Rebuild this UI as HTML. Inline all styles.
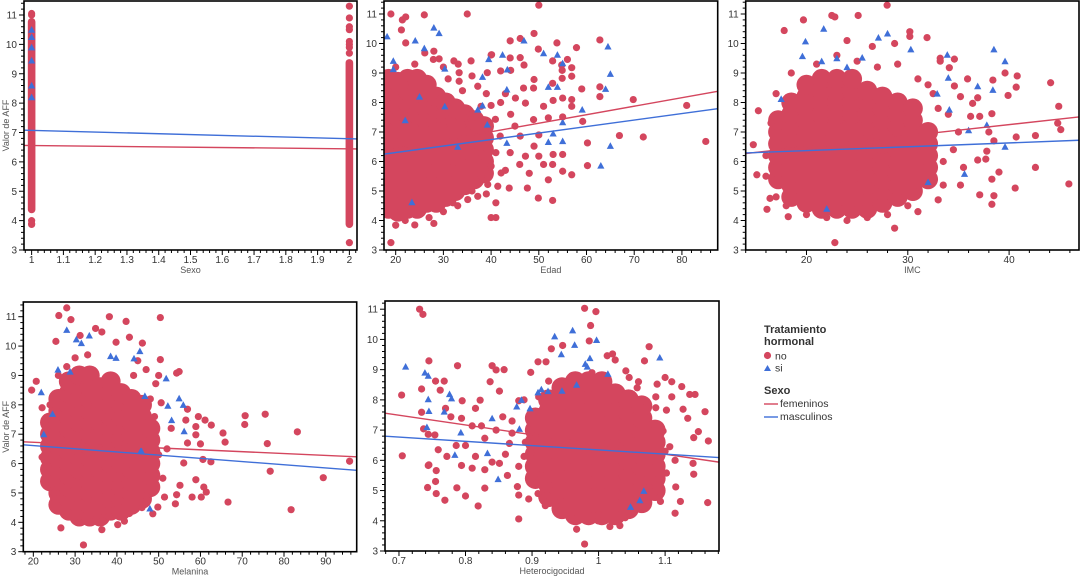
<!DOCTYPE html>
<html><head><meta charset="utf-8"><style>
html,body{margin:0;padding:0;background:#fff;}
svg{display:block;font-family:"Liberation Sans",Arial,sans-serif;}
</style></head><body>
<svg id="chart" width="1080" height="577" viewBox="0 0 1080 577"></svg>
<script>
// ---------------- DATA ----------------
const yTicks = [3,4,5,6,7,8,9,10,11];
const sexoTicks = [1,1.1,1.2,1.3,1.4,1.5,1.6,1.7,1.8,1.9,2];
const edadTicks = [20,30,40,50,60,70,80];
const imcTicks = [20,30,40];
const melTicks = [20,30,40,50,60,70,80,90];
const hetTicks = [0.7,0.8,0.9,1,1.1];

// Sexo panel
const sexoCats = [1,2];
const sexoCoreLo = [4.25,3.75];
const sexoCoreHi = [10.9,9.5];
const sexoNo = [[1,4.0],[1,3.9],[1,3.87],[1,11.05],[1,11.0],[2,3.25],[2,9.7],[2,9.9],[2,10.1],[2,10.5],[2,10.6],[2,10.9],[2,11.3],[2,10.0]];
const sexoSi = [[1,10.5],[1,10.25],[1,9.9],[1,9.45],[1,8.6],[1,8.2]];
const sexoFem = [6.56,6.44];
const sexoMas = [7.08,6.78];

// Edad: dense columns [x, yLow, yHigh]
const edadCore = [[18.5,4.4,9.0],[20.5,4.3,9.0],[22.5,4.4,9.0],[24.5,4.4,8.8],[26.5,4.6,8.6],[28.5,4.6,8.4],[30.5,4.8,8.2],[32.5,5.0,8.0],[34.5,5.2,7.8],[36.5,5.4,7.6],[38.5,5.6,7.2]];
const edadNo = [[50,11.3],[35,11.0],[26,10.97],[19,11.0],[49,10.34],[62.8,10.12],[57.9,9.86],[62.8,8.53],[69.8,8.1],[81,7.9],[85,6.68],[71.9,6.83],[66.9,6.88],[60.2,6.63],[60.2,5.86],[62.8,8.2],[59.2,7.36],[49.9,4.76],[52.9,4.68],[41,4.6],[40,4.1],[41,4.1],[19,3.25],[20,3.84],
[40,9.61],[44,10.09],[46.1,10.17],[46.9,9.27],[44,9.51],[46.1,9.52],[44.1,9.09],[49,8.78],[52.9,8.65],[54.9,8.82],[54.9,9.09],[56.9,9.18],[56,9.46],[56.9,8.89],[53.8,10.02],[54.8,9.27],[52.9,9.41],[49.9,9.81],[59,8.46],[55,8.15],[56.9,8.1],[56.9,7.87],[53,8.07],[51,7.87],[55,7.51],[52,7.48],[48.9,7.42],[46.8,8.49],[48.9,8.49],[47.2,7.98],[45.1,8.15],[44.1,7.6],[40.9,7.43],[41.9,6.86],[46.1,6.86],[49,6.52],[47.2,6.18],[50,6.18],[53,6.24],[55,6.24],[52.9,5.9],[51,5.9],[55,5.67],[52,5.38],[56.9,5.55],[47.6,5.1],[43.8,5.1],[41.4,5.16],[42.1,5.61],[37.9,5.5],[37.2,4.82],[35.1,4.71],[39.3,5.22],[40,5.84],[37.9,6.3],[35.8,6.52],[37.9,6.98],[35.8,7.43],[37.9,7.87],[40.1,9.62],[35.8,9.41],[32.2,9.41],[33.1,9.3],[27.9,9.46],[29.1,9.48],[28,9.74],[26.1,9.68],[22.1,10.02],[21.2,10.46],[21.4,10.8],[22.1,10.9],[33.3,9.01],[39.2,9.01],[42,9.07],[37.2,8.55],[33.3,8.72],[43,8.3],[45,7.2],[48,5.6],[50,6.9],[44,6.3],[46,5.9],[42,8.0],[39,8.3],[36,8.9],[30,9.2],[24,9.3],[20,9.2],[25,4.2],[22,4.0],[27,4.1],[30,4.3],[33,4.5],[28,3.9],[24,3.85],[31,8.8],[34,8.4],[40,7.9],[41,6.3],[43,5.7],[39,4.9],[36,5.0],[32,4.6]];
const edadSi = [[18.2,10.24],[28,10.54],[29.1,10.35],[24.1,10.1],[26,9.84],[39.5,9.47],[42.4,9.62],[43.4,9.12],[46.9,10.1],[51,9.67],[53.9,9.62],[55,9.33],[52,8.53],[53.9,8.53],[43.3,8.44],[59.1,7.76],[55,7.33],[53,6.95],[52,6.66],[55,6.69],[43.3,6.63],[39.2,7.25],[37.2,7.76],[38.2,7.9],[64.5,9.9],[63,5.86],[65,6.53],[64,8.46],[65,8.97],[23.4,4.62],[19.5,9.41],[19.5,9.13],[30.3,9.15],[30.3,7.87],[38.2,8.87],[25,8.2],[22,7.4],[33,6.5]];
const edadFem = [6.36,8.38];
const edadMas = [6.25,7.79];

// IMC
const imcCore = [[17.2,5.4,7.6],[18.5,4.8,8.2],[20,4.6,8.6],[21.5,4.4,8.8],[23,4.4,8.8],[24.5,4.4,8.8],[26,4.4,8.6],[27.5,4.6,8.4],[29,4.8,8.2],[30.5,5.0,7.8],[32,5.4,7.2]];
const imcNo = [[27.96,11.3],[22.5,10.95],[22.8,10.9],[25.1,10.95],[19.7,10.8],[17.8,10.44],[14.75,6.57],[15.25,7.72],[15.1,5.55],[16.1,4.38],[16.4,4.75],[18.2,4.13],[22.8,3.25],[28.7,3.74],[35.9,8.8],[38.4,8.76],[40.8,8.9],[44.1,8.67],[40.7,8.52],[39.6,9.0],[44.9,7.87],[44.8,7.3],[45.1,7.08],[42.6,6.88],[40.7,6.83],[42.6,5.8],[45.9,5.24],[40.6,5.1],[38.5,4.84],[38.3,4.55],[37.1,4.87],[39,5.64],[38.3,5.4],[39.9,8.24],[36.9,8.16],[36.4,7.97],[36.2,7.53],[37.1,7.53],[38.3,7.62],[38,7.0],[38.5,6.7],[37.8,6.35],[36.9,6.05],[37.7,6.08],[35.2,5.2],[31.9,10.2],[30.2,10.4],[30.2,10.24],[28.7,10.0],[33.2,9.5],[33.2,9.4],[34.6,9.47],[34.1,9.18],[34.6,8.56],[35.2,8.2],[34,7.6],[35,7.0],[34.5,6.4],[35.5,5.8],[33.5,5.2],[33,4.7],[31,4.3],[26,4.1],[24,4.0],[20,4.2],[17,4.8],[16,6.2],[16.5,7.3],[17,8.3],[18.5,9.0],[21,9.3],[23,9.6],[25,9.4],[27,9.2],[29,9.3],[31,8.8],[32.5,8.3],[24,10.1],[26.5,9.9],[33.5,6.0],[33,7.8],[32,8.6],[30,4.5],[28,4.2],[22,4.1],[18,4.5],[16,5.5]];
const imcSi = [[21.7,10.5],[19.9,10.07],[27.1,10.2],[28,10.34],[19.6,9.57],[38.5,9.8],[39.6,9.4],[33.9,9.62],[36.9,8.55],[38.4,8.43],[34.1,7.76],[37.8,7.24],[39.6,6.5],[35.6,5.58],[36,7.06],[17.5,8.12],[25.5,9.52],[30.3,9.8],[34,8.84],[32.9,8.3],[21.5,9.4],[23,9.5],[24,9.2],[32,5.3],[22,4.4]];
const imcFem = [6.27,7.51];
const imcMas = [6.29,6.72];

// Melanina
const melCore = [[24,5.4,7.6],[26,4.6,8.4],[28.5,4.4,8.8],[31,4.2,9.0],[33.5,4.2,9.0],[36,4.2,8.8],[38.5,4.4,8.8],[41,4.4,8.6],[43.5,4.6,8.4],[46,4.8,8.0],[48,5.2,7.4]];
const melNo = [[19.6,8.5],[20.7,8.8],[22.1,7.9],[22.1,6.22],[24.4,5.3],[24.8,4.85],[26.6,3.81],[32,3.23],[36.4,3.75],[40.2,3.92],[41.8,4.04],[26.1,11.04],[28,11.3],[29,10.9],[38.2,11.0],[42.2,10.84],[50.4,10.97],[34.9,10.6],[36.4,10.48],[31.2,10.36],[25.4,10.16],[39.8,10.13],[46.1,10.1],[43,10.3],[50.4,9.54],[54.9,9.13],[54.3,9.08],[50.6,8.07],[49.3,8.72],[56.9,7.85],[56.5,7.48],[59.5,7.6],[61.1,7.48],[62.6,7.31],[58.9,7.26],[58.9,6.98],[60,6.67],[56.9,6.7],[65.4,7.04],[65.9,6.73],[70.6,7.33],[70.7,7.63],[75.5,7.68],[76,6.68],[76.7,5.74],[83.2,7.08],[81.7,4.43],[89.4,5.52],[95.7,6.08],[66.6,4.69],[60.2,4.86],[58,4.86],[61.4,5.03],[60.8,5.2],[58.9,5.45],[55.1,5.26],[54,4.63],[54.3,4.94],[56,6.02],[60.6,6.14],[62.5,6.06],[51.4,4.86],[49.8,4.52],[48.6,4.29],[52,6.5],[53,7.2],[51,5.5],[50,9.0],[47,9.2],[45,9.5],[33,9.7],[30,9.6],[28,9.3],[24,8.0],[23,7.3],[23.5,5.9],[25,5.0],[28,4.2],[31,4.0],[35,4.1],[38,4.2],[43,4.3],[46,4.5],[47,4.9],[49,5.8],[50,6.3],[49,7.6],[48,8.2],[44,9.0],[26,9.0]];
const melSi = [[28,10.55],[30.3,10.23],[33.4,10.36],[31.5,10.1],[45.5,9.83],[44.1,9.58],[38.5,9.66],[39.8,9.6],[25.9,9.2],[28.8,9.13],[51.8,8.9],[46.7,8.3],[54.9,8.22],[52.2,7.97],[55.9,8.0],[53.1,7.48],[56.1,7.1],[24.6,7.69],[22.5,7.0],[47.9,4.47],[45.8,6.45],[21.9,8.43]];
const melFem = [6.74,6.23];
const melMas = [6.64,5.77];

// Heterocigocidad
const hetCore = [[0.905,5.4,7.4],[0.925,4.8,8.0],[0.945,4.4,8.4],[0.965,4.2,8.6],[0.985,4.2,8.8],[1.005,4.2,8.6],[1.025,4.2,8.4],[1.045,4.4,8.2],[1.065,4.6,7.8],[1.085,5.0,7.2]];
const hetNo = [[0.731,11.0],[0.736,10.83],[0.979,11.03],[0.996,10.92],[0.988,10.46],[0.986,9.95],[0.946,9.8],[0.929,9.69],[1.076,9.76],[1.069,9.29],[1.1,8.74],[1.088,8.52],[1.11,8.6],[1.125,8.44],[1.137,8.18],[1.145,8.18],[1.127,7.69],[1.16,7.61],[1.134,7.39],[1.15,6.95],[1.165,6.64],[1.143,6.75],[1.142,5.9],[1.143,5.54],[1.123,4.64],[1.164,4.6],[1.115,4.25],[1.093,4.64],[0.704,8.16],[0.705,6.15],[0.788,9.13],[0.768,8.62],[0.734,8.36],[0.745,9.29],[0.755,8.62],[0.762,8.32],[0.745,5.85],[0.756,5.66],[0.743,5.1],[0.756,4.9],[0.755,5.3],[0.769,4.68],[0.8,4.82],[0.787,5.09],[0.819,4.49],[0.829,5.08],[0.88,4.06],[0.84,9.13],[0.846,8.99],[0.858,9.0],[0.837,8.6],[0.851,8.29],[0.822,7.99],[0.815,7.72],[0.795,7.97],[0.77,7.72],[0.778,7.44],[0.794,7.39],[0.734,7.59],[0.737,7.04],[0.744,6.86],[0.754,6.84],[0.759,6.35],[0.772,6.13],[0.786,6.49],[0.8,6.49],[0.744,5.83],[0.815,6.13],[0.81,5.74],[0.794,5.83],[0.829,5.69],[0.84,5.94],[0.851,5.9],[0.863,5.5],[0.878,5.13],[0.866,6.56],[0.846,7.0],[0.829,6.73],[0.824,7.14],[0.81,7.14],[0.856,7.44],[0.88,7.97],[0.898,8.91],[0.909,9.26],[0.921,9.26],[0.925,8.62],[0.888,8.0],[0.888,6.13],[0.898,6.24],[0.88,4.85],[0.895,4.72],[0.909,4.9],[0.923,4.85],[0.943,4.66],[0.913,5.52],[0.926,5.16],[0.979,3.23],[0.967,3.72],[1.017,3.81],[1.032,3.84],[0.999,4.0],[0.943,4.35],[1.076,5.12],[1.091,4.77],[1.116,5.12],[1.102,5.58],[1.115,6.0],[1.107,6.45],[1.097,6.97],[1.102,7.66],[1.086,7.74],[1.11,8.1],[1.086,8.1],[1.058,8.4],[1.071,7.93],[1.041,8.96],[1.046,8.74],[1.021,9.52],[1.025,9.32],[1.013,9.46],[0.96,8.8],[0.99,8.9],[1.0,4.2],[1.04,4.1],[0.96,4.1],[0.87,6.9],[0.87,7.3],[0.86,6.2],[0.9,5.4],[0.88,5.8],[0.9,7.0],[0.91,7.6],[1.09,5.4],[1.1,6.3],[1.08,7.2],[0.89,6.6],[0.91,8.1],[1.06,8.6],[1.07,5.0],[0.92,4.5]];
const hetSi = [[0.71,9.1],[0.739,8.9],[0.744,8.8],[0.744,8.02],[0.745,7.63],[0.742,7.1],[0.793,6.92],[0.776,8.19],[0.779,8.05],[0.768,7.61],[0.84,7.39],[0.833,6.24],[0.849,5.38],[0.881,7.04],[0.884,8.0],[0.877,7.78],[0.897,7.72],[0.909,8.25],[0.914,8.35],[0.924,8.29],[0.945,8.3],[0.934,10.1],[0.961,10.3],[0.997,9.98],[0.964,9.82],[0.944,9.51],[0.987,9.38],[0.98,9.19],[0.983,9.1],[1.014,8.86],[0.967,8.5],[1.092,9.4],[1.068,4.99],[1.062,4.68],[1.048,4.46],[0.784,6.18]];
const hetFem = [7.56,5.94];
const hetMas = [6.8,6.09];

// ---------------- DRAW ----------------
const NS = 'http://www.w3.org/2000/svg';
const svg = document.getElementById('chart');
const RED = '#d4465e', BLUE = '#3f6fd8';
const CORE_STEP = 0.4;
function mk(tag, attrs, parent){
  const e = document.createElementNS(NS, tag);
  for (const k in attrs) e.setAttribute(k, attrs[k]);
  (parent||svg).appendChild(e);
  return e;
}
function lin(d0,d1,r0,r1){ return v => r0 + (v-d0)*(r1-r0)/(d1-d0); }

function panel(id, box, xd, yd, xTicks, xMinor, xTitle, showYTitle){
  const g = mk('g', {});
  
  
  const sx = lin(xd[0], xd[1], box.l, box.r);
  const sy = lin(yd[0], yd[1], box.b, box.yTop);
  const cp = mk('clipPath', {id:'clip-'+id}, g);
  mk('rect', {x:box.l, y:box.t, width:box.r-box.l, height:box.b-box.t}, cp);
  const plot = mk('g', {'clip-path':'url(#clip-'+id+')'}, g);
  
  
  const ya = mk('g', {}, g);
  
  
  for (let v = 3; v <= 11.45; v += 0.2) {
    const yy = sy(v); if (yy < box.t) break;
    const major = Math.abs(v - Math.round(v)) < 1e-6;
    mk('line', {x1:box.l-(major?5:3), x2:box.l, y1:yy, y2:yy, stroke:'#000', 'stroke-width':1}, ya);
  }
  yTicks.forEach(v => {
    const t = mk('text', {x:box.l-7, y:sy(v)+3.5, 'text-anchor':'end', 'font-size':10, fill:'#333'}, ya);
    t.textContent = v;
    
    
  });
  const xa = mk('g', {}, g);
  
  
  const n0 = Math.ceil(xd[0]/xMinor - 1e-6), n1 = Math.floor(xd[1]/xMinor + 1e-6);
  for (let n = n0; n <= n1; n++) {
    const v = n*xMinor;
    const major = xTicks.some(t => Math.abs(t - v) < xMinor/10);
    mk('line', {x1:sx(v), x2:sx(v), y1:box.b, y2:box.b+(major?5:3), stroke:'#000', 'stroke-width':1}, xa);
  }
  xTicks.forEach(v => {
    const t = mk('text', {x:sx(v), y:box.b+13, 'text-anchor':'middle', 'font-size':10, fill:'#333'}, xa);
    t.textContent = v;
    
    
  });
  const xt = mk('text', {x:(box.l+box.r)/2, y:box.b+23, 'text-anchor':'middle', 'font-size':9, fill:'#555'}, g);
  xt.textContent = xTitle;
  
  
  if (showYTitle) {
    const cy = (box.t+box.b)/2;
    const yt = mk('text', {x:9, y:cy, 'text-anchor':'middle', 'font-size':9, fill:'#555', transform:'rotate(-90 9 '+cy+')'}, g);
    yt.textContent = 'Valor de AFF';
    
    
  }
  return {g, plot, sx, sy, box, xd};
}
function cores(p, cols, r){
  cols.forEach(c => {
    for (let y = c[1]; y <= c[2] + 1e-6; y += CORE_STEP) {
      const e = mk('circle', {cx:p.sx(c[0]), cy:p.sy(y), r:r, fill:RED}, p.plot);
      
      
    }
  });
}
function dots(p, arr){
  arr.forEach(d => {
    const c = mk('circle', {cx:p.sx(d[0]), cy:p.sy(d[1]), r:3.6, fill:RED}, p.plot);
    
    
  });
}
function tris(p, arr){
  arr.forEach(d => {
    const x = p.sx(d[0]), y = p.sy(d[1]);
    const t = mk('polygon', {points:(x-3.6)+','+(y+3)+' '+(x+3.6)+','+(y+3)+' '+x+','+(y-3.6), fill:BLUE}, p.plot);
    
    
  });
}
function fit(p, vals, color, name){
  const l = mk('line', {x1:p.sx(p.xd[0]), y1:p.sy(vals[0]), x2:p.sx(p.xd[1]), y2:p.sy(vals[1]), stroke:color, 'stroke-width':1.4}, p.plot);
  
  
}
function frame(p){
  const b = p.box;
  const f = mk('rect', {x:b.l, y:b.t, width:b.r-b.l, height:b.b-b.t, fill:'none', stroke:'#000', 'stroke-width':1.6}, p.g);
  
  
}

// Panel 1: Sexo
const p1 = panel('sexo', {l:24, r:357, t:1, b:250, yTop:15}, [0.976,2.024], [3,11], sexoTicks, 0.02, 'Sexo', true);
sexoCats.forEach((c,i) => {
  const r = mk('rect', {x:p1.sx(c)-3.8, y:p1.sy(sexoCoreHi[i]), width:7.6, height:p1.sy(sexoCoreLo[i])-p1.sy(sexoCoreHi[i]), rx:3.8, fill:RED}, p1.plot);
  
  
});
dots(p1, sexoNo); tris(p1, sexoSi);
fit(p1, sexoFem, RED, 'fit-line-femeninos'); fit(p1, sexoMas, BLUE, 'fit-line-masculinos'); frame(p1);

// Panel 2: Edad
const p2 = panel('edad', {l:384, r:717.7, t:1, b:250, yTop:14}, [17.55,87.5], [3,11], edadTicks, 2, 'Edad', false);
cores(p2, edadCore, 10);
dots(p2, edadNo); tris(p2, edadSi);
fit(p2, edadFem, RED, 'fit-line-femeninos'); fit(p2, edadMas, BLUE, 'fit-line-masculinos'); frame(p2);

// Panel 3: IMC
const p3 = panel('imc', {l:745.7, r:1079, t:1, b:250, yTop:14}, [14,46.9], [3,11], imcTicks, 2, 'IMC', false);
cores(p3, imcCore, 10);
dots(p3, imcNo); tris(p3, imcSi);
fit(p3, imcFem, RED, 'fit-line-femeninos'); fit(p3, imcMas, BLUE, 'fit-line-masculinos'); frame(p3);

// Panel 4: Melanina
const p4 = panel('melanina', {l:23.3, r:356.7, t:302, b:551.7, yTop:316.7}, [17.6,97.4], [3,11], melTicks, 2, 'Melanina', true);
cores(p4, melCore, 10);
dots(p4, melNo); tris(p4, melSi);
fit(p4, melFem, RED, 'fit-line-femeninos'); fit(p4, melMas, BLUE, 'fit-line-masculinos'); frame(p4);

// Panel 5: Heterocigocidad
const p5 = panel('heterocigocidad', {l:385, r:719, t:301, b:551, yTop:309.2}, [0.679,1.181], [3,11], hetTicks, 0.02, 'Heterocigocidad', false);
cores(p5, hetCore, 10.5);
dots(p5, hetNo); tris(p5, hetSi);
fit(p5, hetFem, RED, 'fit-line-femeninos'); fit(p5, hetMas, BLUE, 'fit-line-masculinos'); frame(p5);

// Legend
const lg = mk('g', {});


function txt(x,y,s,bold,name){
  const t = mk('text', {x:x, y:y, 'font-size':bold?11:10.5, 'font-weight':bold?'bold':'normal', fill:'#333'}, lg);
  t.textContent = s;
  
  
}
txt(764,333,'Tratamiento',true,'legend-title-tratamiento');
txt(764,345,'hormonal',true,'legend-title-tratamiento-2');
const lc = mk('circle', {cx:767.5, cy:355.5, r:3.6, fill:RED}, lg);


txt(775,359.5,'no',false,'legend-entry-no');
const lt = mk('polygon', {points:'764,371 771,371 767.5,365', fill:BLUE}, lg);


txt(775,371.5,'si',false,'legend-entry-si');
txt(764,394,'Sexo',true,'legend-title-sexo');
const l1 = mk('line', {x1:764, x2:778, y1:404, y2:404, stroke:RED, 'stroke-width':1.4}, lg);


txt(780,407,'femeninos',false,'legend-entry-femeninos');
const l2 = mk('line', {x1:764, x2:778, y1:417, y2:417, stroke:BLUE, 'stroke-width':1.4}, lg);


txt(780,420,'masculinos',false,'legend-entry-masculinos');
</script>
</body></html>
